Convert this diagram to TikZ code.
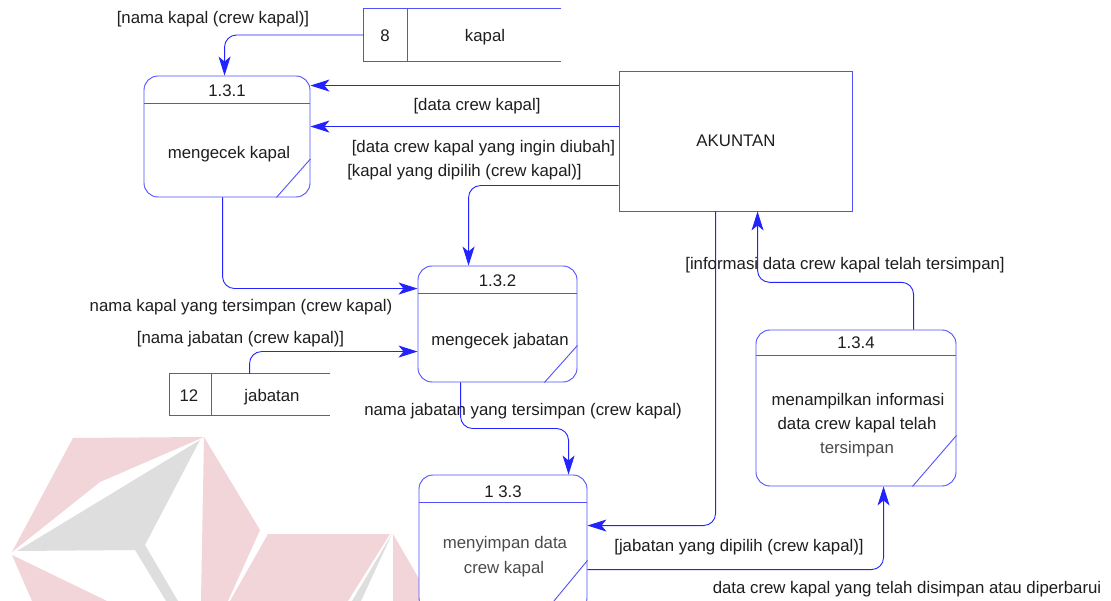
\documentclass[tikz,border=0pt]{standalone}
\usepackage{fontspec}
\setmainfont{Liberation Sans}
\usetikzlibrary{arrows.meta,calc}
\definecolor{flowblue}{RGB}{35,35,255}
\definecolor{boxblue}{RGB}{80,80,255}
\definecolor{inktext}{RGB}{30,30,30}
\definecolor{softtext}{RGB}{75,75,75}
\definecolor{logopink}{RGB}{242,213,216}
\definecolor{logogray}{RGB}{222,222,222}

\begin{document}
\begin{tikzpicture}[x=1pt,y=-1pt,
  proc/.style={draw=boxblue, line width=0.9pt, rounded corners=14pt, fill=white, inner sep=0pt},
  procline/.style={draw=boxblue, line width=0.9pt},
  ext/.style={draw=boxblue, line width=0.9pt, fill=white, inner sep=0pt},
  store/.style={inner sep=0pt},
  flow/.style={draw=flowblue, line width=0.9pt, rounded corners=12pt,
    -{Stealth[length=19pt,width=12pt,inset=5pt]}},
  txt/.style={font=\fontsize{16.8}{19}\selectfont, text=inktext, inner sep=0pt,
    text height=12pt, text depth=0pt},
  soft/.style={txt, text=softtext}]

\clip (0,0) rectangle (1111,601);
\fill[white] (0,0) rectangle (1111,601);

% faint logo in the lower left corner
\fill[logopink] (73,438) -- (204,437) -- (100,482) -- (12,552) -- cycle;
\fill[logogray] (17,551) -- (200,440) -- (145,545) -- (178,601) -- (166,601) -- (135,550) -- cycle;
\fill[logopink] (12,555) -- (107,601) -- (32,601) -- cycle;
\fill[logopink] (204,437) -- (260,530) -- (228,601) -- (201,601) -- cycle;
\fill[logopink] (268,534) -- (390,534) -- (348,601) -- (230,601) -- cycle;
\fill[logogray] (392,534) -- (352,601) -- (361,601) -- cycle;
\fill[logopink] (393,534) -- (422,584) -- (422,601) -- (393,601) -- cycle;

% external entity
\node[ext, minimum width=233, minimum height=140] (ak) at (735.5,141) {};
\node[txt] (akt) at (736,141) {AKUNTAN};

% data stores
\node[store, minimum width=197, minimum height=52] (s8) at (462.5,35) {};
\draw[procline] (s8.north east) -- (s8.north west) -- (s8.south west) -- (s8.south east);
\draw[procline] ([xshift=44]s8.north west) -- ([xshift=44]s8.south west);
\node[txt] (s8n) at (385,36) {8};
\node[txt] (s8t) at (485,36) {kapal};

\node[store, minimum width=160.5, minimum height=41.5] (s12) at (250,394.75) {};
\draw[procline] (s12.north east) -- (s12.north west) -- (s12.south west) -- (s12.south east);
\draw[procline] ([xshift=41.5]s12.north west) -- ([xshift=41.5]s12.south west);
\node[txt] (s12n) at (189,396) {12};
\node[txt] (s12t) at (272,396) {jabatan};

% processes
\node[proc, minimum width=166, minimum height=121] (p131) at (227,136.5) {};
\draw[procline] ([yshift=-28]p131.north west) -- ([yshift=-28]p131.north east);
\draw[procline] ([yshift=38.5]p131.south east) -- ([xshift=-34]p131.south east);
\node[txt] (p131a) at (227,91) {1.3.1};
\node[txt] (p131b) at (229,153) {mengecek kapal};

\node[proc, minimum width=159, minimum height=116] (p132) at (497.5,324) {};
\draw[procline] ([yshift=-28]p132.north west) -- ([yshift=-28]p132.north east);
\draw[procline] ([yshift=37]p132.south east) -- ([xshift=-33]p132.south east);
\node[txt] (p132a) at (497.5,281) {1.3.2};
\node[txt] (p132b) at (500,340) {mengecek jabatan};

\node[proc, minimum width=168, minimum height=137] (p133) at (503,543.5) {};
\draw[procline] ([yshift=-28]p133.north west) -- ([yshift=-28]p133.north east);
\draw[procline] ([yshift=52]p133.south east) -- ([xshift=-43]p133.south east);
\node[txt] (p133a) at (503,491) {1 3.3};
\node[soft] (p133b) at (505,542) {menyimpan data};
\node[soft] (p133c) at (504,567) {crew kapal};

\node[proc, minimum width=200, minimum height=156] (p134) at (856,408) {};
\draw[procline] ([yshift=-26]p134.north west) -- ([yshift=-26]p134.north east);
\draw[procline] ([yshift=51]p134.south east) -- ([xshift=-44]p134.south east);
\node[txt] (p134a) at (856,343) {1.3.4};
\node[txt] (p134b) at (858,400) {menampilkan informasi};
\node[txt] (p134c) at (857,423) {data crew kapal telah};
\node[soft] (p134d) at (857,447) {tersimpan};

% connector end points on the node borders
\coordinate (g1) at ([xshift=81]p131.north west);
\coordinate (a1) at ([yshift=-15]ak.north west);
\coordinate (a2) at ([yshift=-56]ak.north west);
\coordinate (a3) at ([yshift=-115]ak.north west);
\coordinate (a4) at ([xshift=51]p132.north west);
\coordinate (b1) at ([xshift=79]p131.south west);
\coordinate (b2) at ([yshift=-23]p132.north west);
\coordinate (j1) at ([xshift=80]s12.north west);
\coordinate (j2) at ([yshift=-86]p132.north west);
\coordinate (c1) at ([xshift=43]p132.south west);
\coordinate (c2) at ([xshift=150]p133.north west);
\coordinate (d1) at ([xshift=97]ak.south west);
\coordinate (d2) at ([yshift=-51]p133.north east);
\coordinate (e1) at ([yshift=-95]p133.north east);
\coordinate (e2) at ([xshift=128]p134.south west);
\coordinate (f1) at ([xshift=158]p134.north west);
\coordinate (f2) at ([xshift=139]ak.south west);

% data flows
\draw[flow] (s8.west) -| (g1);
\draw[flow] (a1) -- (a1 -| p131.east);
\draw[flow] (a2) -- (a2 -| p131.east);
\draw[flow] (a3) -| (a4);
\draw[flow] (b1) |- (b2);
\draw[flow] (j1) |- (j2);
\draw[flow] (c1) |- ($(c1)!0.5!(c2)$) -| (c2);
\draw[flow] (d1) |- (d2);
\draw[flow] (e1) -| (e2);
\draw[flow] (f1) |- ($(f1)!0.4!(f2)$) -| (f2);

% flow labels
\node[txt] (l1) at (213,18) {[nama kapal (crew kapal)]};
\node[txt] (l2) at (477,105) {[data crew kapal]};
\node[txt] (l3) at (483.5,147) {[data crew kapal yang ingin diubah]};
\node[txt] (l4) at (464.5,171) {[kapal yang dipilih (crew kapal)]};
\node[txt] (l5) at (241,306) {nama kapal yang tersimpan (crew kapal)};
\node[txt] (l6) at (240.5,338) {[nama jabatan (crew kapal)]};
\node[txt] (l7) at (523,409) {nama jabatan yang tersimpan (crew kapal)};
\node[txt] (l8) at (845,264) {[informasi data crew kapal telah tersimpan]};
\node[txt] (l9) at (739,545) {[jabatan yang dipilih (crew kapal)]};
\node[txt] (l10) at (907,587) {data crew kapal yang telah disimpan atau diperbarui};
\end{tikzpicture}
\end{document}
